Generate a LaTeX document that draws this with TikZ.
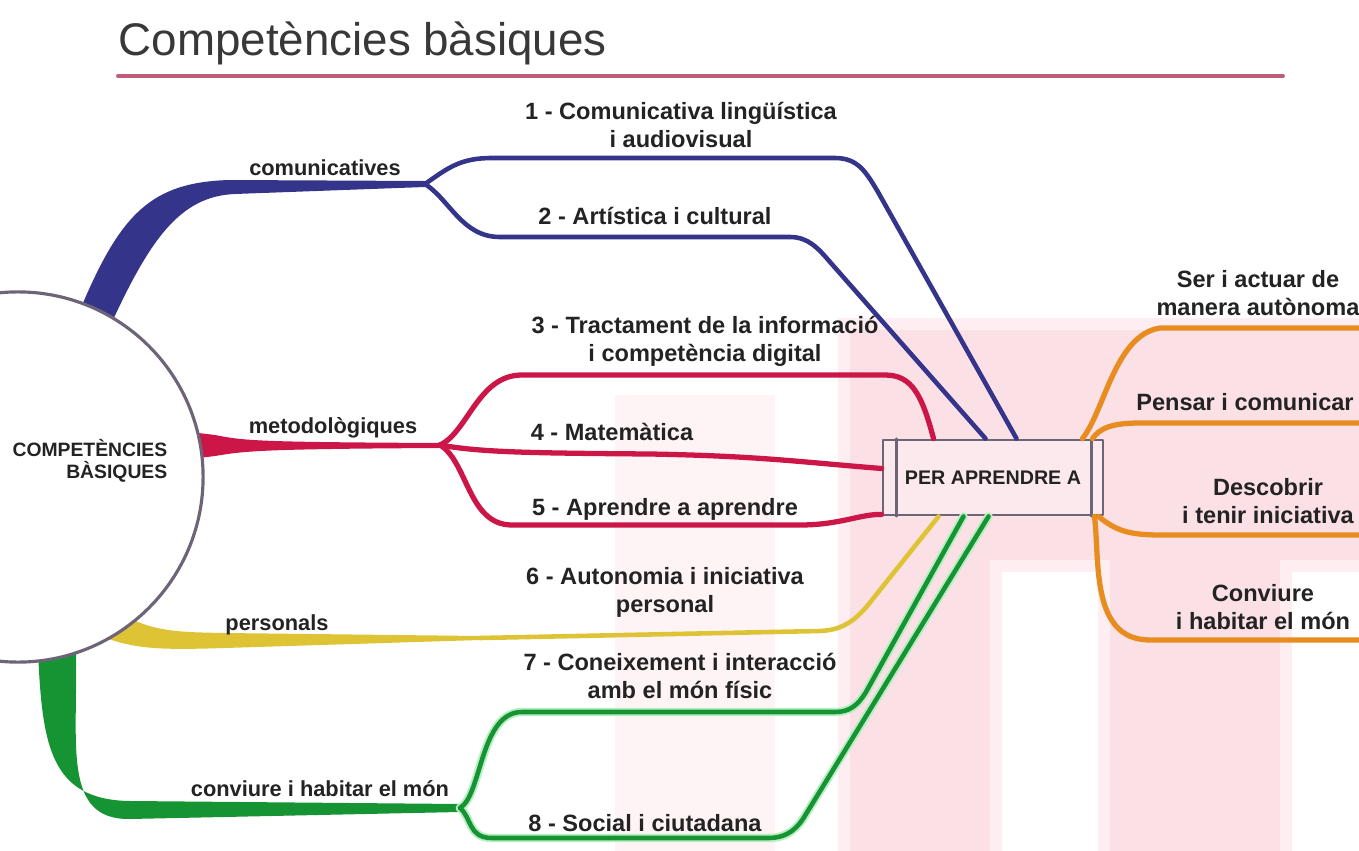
\documentclass[tikz,border=0pt]{standalone}
\usepackage{fontspec}
\setmainfont{Liberation Sans}
\usetikzlibrary{calc}

\definecolor{blava}{RGB}{52,52,138}
\definecolor{vermell}{RGB}{205,22,72}
\definecolor{groc}{RGB}{222,196,52}
\definecolor{verd}{RGB}{22,148,52}
\definecolor{verdclar}{RGB}{185,238,195}
\definecolor{taronja}{RGB}{232,140,32}
\definecolor{rosa}{RGB}{251,224,229}
\definecolor{rosaclar}{RGB}{254,238,241}
\definecolor{ratlla}{RGB}{192,92,122}
\definecolor{vora}{RGB}{110,100,120}
\definecolor{tinta}{RGB}{35,35,35}

\begin{document}
\begin{tikzpicture}[x=0.01cm, y=-0.01cm, line cap=round, line join=round,
    lbl/.style={font=\fontsize{6.7}{8}\selectfont\bfseries, text=tinta, align=center, inner sep=0pt},
    tronclbl/.style={font=\fontsize{6.2}{7}\selectfont\bfseries, text=tinta, inner sep=0pt},
    branca/.style={line width=1.3pt},
    hub/.style={circle, draw=vora, line width=0.9pt, fill=white, minimum size=3.7cm, inner sep=0pt},
    caixa/.style={rectangle, draw=vora, line width=0.8pt, fill=rosa!70!white, minimum width=2.2cm,
        minimum height=0.75cm, inner sep=0pt, font=\fontsize{5.6}{6}\selectfont\bfseries, text=tinta}]
    \useasboundingbox (0,0) rectangle (1359,851);

    % Fons rosat (vores suaus)
    \fill[rosaclar!70!white] (615,395) rectangle (775,851);
    \foreach \xa/\ya/\xb/\yb in {850/330/1359/560, 850/560/990/851, 1110/560/1280/851}
        \fill[rosaclar] ({\xa-12},{\ya-12}) rectangle ({\xb+12},{\yb+12});
    \foreach \xa/\ya/\xb/\yb in {850/330/1359/560, 850/560/990/851, 1110/560/1280/851}
        \fill[rosa] (\xa,\ya) rectangle (\xb,\yb);

    % Titol
    \node[anchor=base west, font=\fontsize{13}{15}\selectfont, text=black!78, inner sep=0pt] (titol) at (118,55) {Competències bàsiques};
    \draw[ratlla, line width=1.1pt] ($(titol.base west)+(0,21)$) -- ++(1165,0);

    % Troncs gruixuts
    \fill[blava] (80,310) .. controls (120,215) and (150,182) .. (230,180) -- (425,181) -- (425,187)
        -- (235,194) .. controls (180,196) and (150,240) .. (112,322) -- cycle;
    \fill[vermell] (190,432) -- (215,435) .. controls (245,441) and (260,442) .. (440,443) -- (440,448)
        .. controls (260,449) and (245,451) .. (215,456) -- (190,459) -- cycle;
    \fill[groc] (100,598) .. controls (140,632) and (170,632) .. (225,633) -- (480,636) -- (480,640)
        -- (225,648) .. controls (160,650) and (130,650) .. (92,632) -- cycle;
    \fill[verd] (38,650) .. controls (42,745) and (50,800) .. (130,801) -- (460,804) -- (460,812)
        -- (130,819) .. controls (62,820) and (78,745) .. (76,650) -- cycle;

    % Nusos
    \coordinate (nusC) at (425,184);
    \coordinate (nusM) at (440,445);
    \coordinate (nusP) at (480,638);
    \coordinate (nusV) at (460,808);
    \coordinate (ser) at (1359,328);
    \coordinate (pensar) at (1359,423);
    \coordinate (desc) at (1359,535);
    \coordinate (conv) at (1359,640);

    % Cercle central
    \node[hub] (hub) at (18,477) {};
    \node[tronclbl, font=\fontsize{5.5}{6.3}\selectfont\bfseries, align=right, anchor=east] (hubnom) at (168,461) {COMPETÈNCIES\\BÀSIQUES};

    % Caixa
    \node[caixa] (box) at (993,477.5) {PER APRENDRE A};
    \draw[vora, line width=0.6pt] ($(box.north west)+(15,0)$) -- ($(box.south west)+(15,0)$);
    \draw[vora, line width=0.6pt] ($(box.north east)+(-13,0)$) -- ($(box.south east)+(-13,0)$);

    % comunicatives
    \draw[branca, blava] (nusC) .. controls (448,168) and (460,158) .. (492,158) -- (835,158)
        .. controls (858,158) and (866,172) .. (878,192) -- ($(box.north west)+(135,0)$);
    \draw[branca, blava] (nusC) .. controls (450,200) and (462,237) .. (500,237) -- (790,237)
        .. controls (808,237) and (818,248) .. (830,262) -- ($(box.north west)+(104,0)$);

    % metodologiques
    \draw[branca, vermell, line width=1.5pt] (nusM) .. controls (468,432) and (478,375) .. (522,375) -- (885,375)
        .. controls (912,375) and (922,395) .. ($(box.north west)+(52,0)$);
    \draw[branca, vermell, line width=1.5pt] (nusM) .. controls (480,452) and (520,453) .. (650,454)
        .. controls (760,456) and (800,462) .. ($(box.west)+(0,-9)$);
    \draw[branca, vermell, line width=1.5pt] (nusM) .. controls (468,462) and (468,525) .. (512,525) -- (800,525)
        .. controls (840,525) and (860,514) .. ($(box.south west)+(0,-2)$);

    % personals
    \draw[branca, groc] (nusP) -- (820,631) .. controls (845,630) and (858,618) .. (872,600)
        -- ($(box.south west)+(57,0)$);

    % conviure
    \draw[verdclar, line width=2.4pt] (nusV) .. controls (482,795) and (480,712) .. (522,712) -- (835,712)
        .. controls (850,712) and (858,705) .. (866,692) -- ($(box.south west)+(82,0)$);
    \draw[verdclar, line width=2.4pt] (nusV) .. controls (472,818) and (468,838) .. (492,838) -- (768,838)
        .. controls (788,838) and (798,828) .. (806,814) -- ($(box.south west)+(107,0)$);
    \draw[branca, verd] (nusV) .. controls (482,795) and (480,712) .. (522,712) -- (835,712)
        .. controls (850,712) and (858,705) .. (866,692) -- ($(box.south west)+(82,0)$);
    \draw[branca, verd] (nusV) .. controls (472,818) and (468,838) .. (492,838) -- (768,838)
        .. controls (788,838) and (798,828) .. (806,814) -- ($(box.south west)+(107,0)$);

    % per aprendre a
    \draw[branca, taronja, line width=1.5pt] ($(box.north east)+(-22,0)$) .. controls (1105,410) and (1115,335) .. (1160,328) -- (ser);
    \draw[branca, taronja, line width=1.5pt] ($(box.north east)+(-12,0)$) .. controls (1100,428) and (1112,423) .. (1140,423) -- (pensar);
    \draw[branca, taronja, line width=1.5pt] ($(box.south east)+(-6,0)$) .. controls (1115,530) and (1128,535) .. (1160,535) -- (desc);
    \draw[branca, taronja, line width=1.5pt] ($(box.south east)+(-10,0)$) .. controls (1100,560) and (1090,640) .. (1150,640) -- (conv);

    % Etiquetes
    \node[tronclbl] (lcom) at (325,168) {comunicatives};
    \node[tronclbl] (lmet) at (333,428) {metodològiques};
    \node[tronclbl] (lper) at (277,625) {personals};
    \node[tronclbl] (lconv) at (320,789) {conviure i habitar el món};
    \node[lbl] (c1) at (681,125) {1 - Comunicativa lingüística\\i audiovisual};
    \node[lbl] (c2) at (655,216) {2 - Artística i cultural};
    \node[lbl] (c3) at (705,341) {3 - Tractament de la informació\\i competència digital};
    \node[lbl] (c4) at (612,432) {4 - Matemàtica};
    \node[lbl] (c5) at (665,509) {5 - Aprendre a aprendre};
    \node[lbl] (c6) at (665,592) {6 - Autonomia i iniciativa\\personal};
    \node[lbl] (c7) at (680,676) {7 - Coneixement i interacció\\amb el món físic};
    \node[lbl] (c8) at (645,823) {8 - Social i ciutadana};
    \node[lbl] (a1) at (1258,293) {Ser i actuar de\\manera autònoma};
    \node[lbl] (a2) at (1245,402) {Pensar i comunicar};
    \node[lbl] (a3) at (1268,501) {Descobrir\\i tenir iniciativa};
    \node[lbl] (a4) at (1263,607) {Conviure\\i habitar el món};
\end{tikzpicture}
\end{document}
